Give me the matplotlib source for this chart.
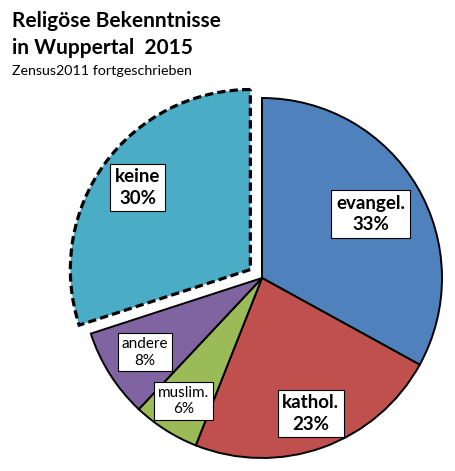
import numpy as np
import matplotlib
matplotlib.use("Agg")
import matplotlib.pyplot as plt

categories = ["evangel.", "kathol.", "muslim.", "andere", "keine"]
values = [33, 23, 6, 8, 30]
pct_labels = ["33%", "23%", "6%", "8%", "30%"]
colors = ["#4F81BD", "#C0504D", "#9BBB59", "#8064A2", "#4BACC6"]
title_lines = ["Religöse Bekenntnisse", "in Wuppertal  2015"]
subtitle = "Zensus2011 fortgeschrieben"

W, H = 455, 471
fig = plt.figure(figsize=(W / 100, H / 100), dpi=100)
ax = fig.add_axes([0, 0, 1, 1])

R = 180
cx, cy = 262, H - 278
explode = [0, 0, 0, 0, 0.08 * R]

wedges, _ = ax.pie(values, colors=colors, startangle=90, counterclock=False,
                   radius=R, center=(cx, cy), explode=explode,
                   wedgeprops=dict(edgecolor="black", linewidth=1.4))
ax.set_xlim(0, W)
ax.set_ylim(0, H)
ax.set_aspect("equal")
ax.axis("off")

kw = wedges[4]
kw.set_linewidth(2.3)
kw.set_linestyle((0, (2.6, 1.3)))

fracs = [0.70, 0.80, 0.81, 0.77, 0.775]
bold = [True, True, False, False, True]
for w, cat, pl, f, b in zip(wedges, categories, pct_labels, fracs, bold):
    th = np.deg2rad(0.5 * (w.theta1 + w.theta2))
    x = w.center[0] + f * w.r * np.cos(th)
    y = w.center[1] + f * w.r * np.sin(th)
    ax.text(x, y, f"{cat}\n{pl}", ha="center", va="center",
            fontsize=13.5 if b else 11, fontweight="bold" if b else "normal",
            family="Lato", linespacing=1.3 if b else 1.25,
            bbox=dict(boxstyle="square,pad=0.25", facecolor="white",
                      edgecolor="black", linewidth=0.8))

fig.text(12 / W, 1 - 27 / H, title_lines[0], fontsize=15, fontweight="bold",
         family="Lato", va="baseline", ha="left")
fig.text(12 / W, 1 - 54 / H, title_lines[1], fontsize=15, fontweight="bold",
         family="Lato", va="baseline", ha="left")
fig.text(12 / W, 1 - 75 / H, subtitle, fontsize=10.3, family="Lato",
         va="baseline", ha="left")

fig.savefig("out.png", dpi=100, facecolor="white")
